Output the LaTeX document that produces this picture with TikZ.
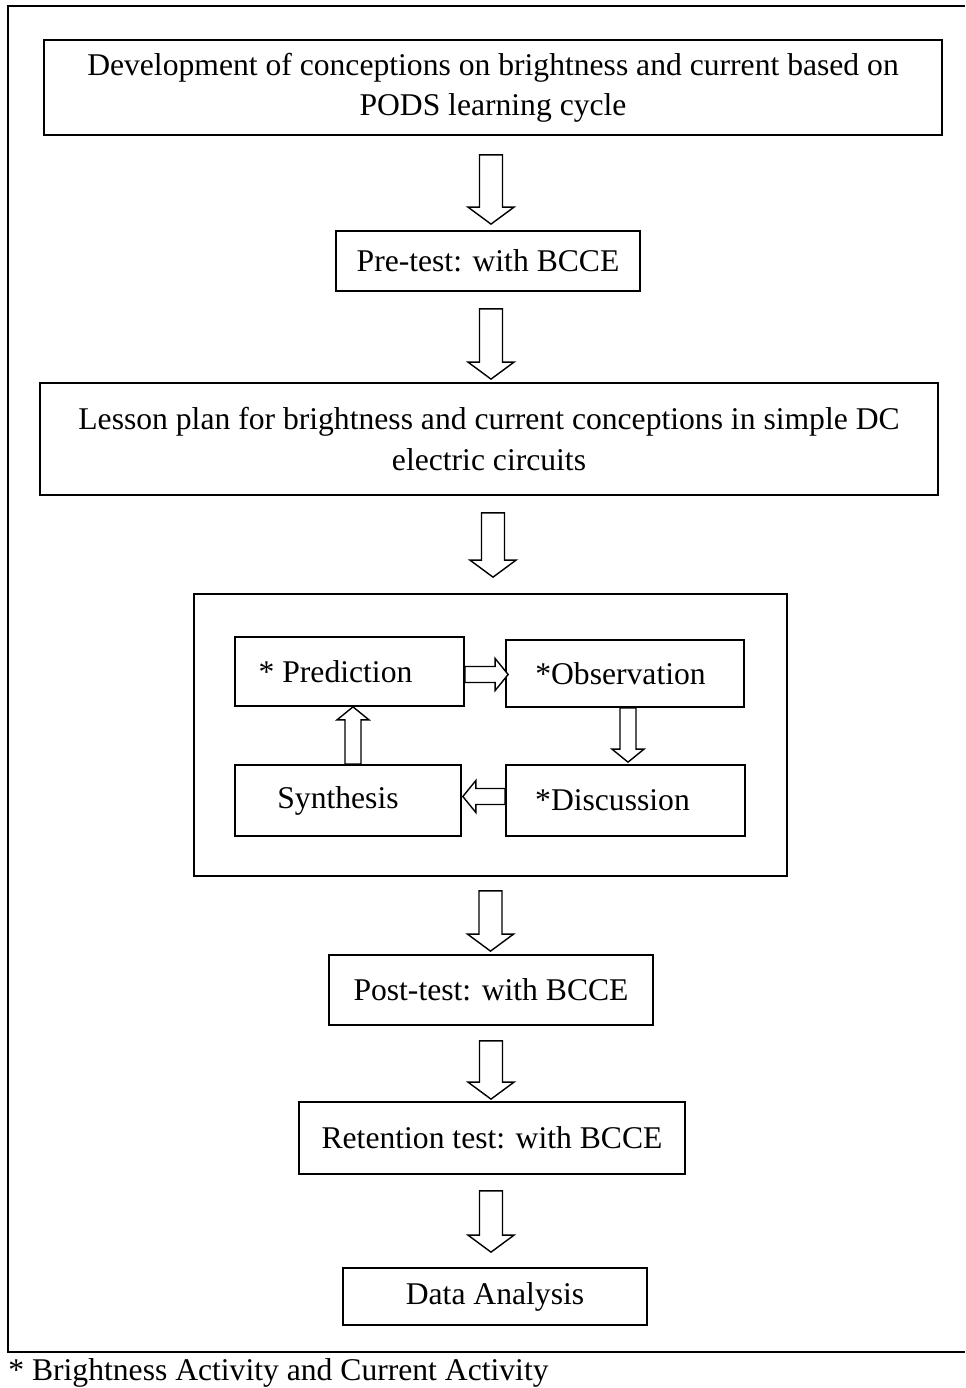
\documentclass[tikz,border=0pt]{standalone}
\usepackage{fontspec}
\setmainfont{Liberation Serif}
\usetikzlibrary{calc}

\tikzset{
  box/.style={draw, line width=1pt, inner sep=2pt, align=center},
  hollow/.style={draw, line width=0.8pt, fill=white, line join=miter},
}
% sizes of the hollow block arrows
\newcommand{\shafthw}{0.23cm}
\newcommand{\headhw}{0.46cm}
\newcommand{\headlen}{0.34cm}
\newcommand{\blockarrow}[2]{%
  \draw[hollow] let \p1=(#1), \p2=(#2),
      \n1={atan2(\y2-\y1,\x2-\x1)}, \n2={veclen(\x2-\x1,\y2-\y1)} in
    ($(\p1)+(\n1+90:\shafthw)$)
    -- ($(\p1)+(\n1:\n2-\headlen)+(\n1+90:\shafthw)$)
    -- ($(\p1)+(\n1:\n2-\headlen)+(\n1+90:\headhw)$)
    -- (\p2)
    -- ($(\p1)+(\n1:\n2-\headlen)+(\n1-90:\headhw)$)
    -- ($(\p1)+(\n1:\n2-\headlen)+(\n1-90:\shafthw)$)
    -- ($(\p1)+(\n1-90:\shafthw)$) -- cycle;}

\begin{document}
\begin{tikzpicture}[x=0.02cm, y=-0.02cm, font=\fontsize{18}{22.8}\selectfont]
  \useasboundingbox (0,0) rectangle (965,1388);
  % outer frame
  \draw[line width=1pt] (965,6) -- (8,6) -- (8,1352) -- (965,1352);

  % main flow
  \node[box, minimum width=17.96cm, minimum height=1.9cm] (dev) at (493,87.5)
    {Development of conceptions on brightness and current based on\\ PODS learning cycle};
  \node[box, minimum width=6.08cm, minimum height=1.2cm] (pre) at (488,261) {Pre-test: with BCCE};
  \node[box, minimum width=17.96cm, minimum height=2.24cm] (plan) at (489,439)
    {Lesson plan for brightness and current conceptions in simple DC\\ electric circuits};
  \node[box, minimum width=11.86cm, minimum height=5.64cm] (cyc) at (490.5,735) {};
  \node[box, minimum width=6.48cm, minimum height=1.4cm] (post) at (491,990) {Post-test: with BCCE};
  \node[box, minimum width=7.72cm, minimum height=1.44cm] (ret) at (492,1138) {Retention test: with BCCE};
  \node[box, minimum width=6.08cm, minimum height=1.14cm] (data) at (495,1296.5) {Data Analysis};

  % PODS cycle
  \node[box, minimum width=4.58cm, minimum height=1.38cm] (pred) at (349.5,671.5) {* Prediction\hspace{0.56cm}};
  \node[box, minimum width=4.76cm, minimum height=1.34cm] (obs) at (625,673.5) {*Observation\hspace{0.18cm}};
  \node[box, minimum width=4.52cm, minimum height=1.42cm] (syn) at (348,800.5) {Synthesis\hspace{0.4cm}};
  \node[box, minimum width=4.78cm, minimum height=1.42cm] (disc) at (625.5,800.5) {*Discussion\hspace{0.52cm}};

  \node[anchor=base west, inner sep=0pt] (note) at (8,1380) {* Brightness Activity and Current Activity};

  % arrows of the main flow
  \blockarrow{$(dev.south)+(-2,19)$}{$(dev.south |- pre.north)+(-2,-6)$}
  \blockarrow{$(pre.south)+(3,17)$}{$(pre.south |- plan.north)+(3,-3)$}
  \blockarrow{$(plan.south)+(4,17)$}{$(plan.south |- cyc.north)+(4,-16)$}
  \blockarrow{$(cyc.south)+(0,14)$}{$(cyc.south |- post.north)+(0,-3)$}
  \blockarrow{$(post.south)+(0,15)$}{$(post.south |- ret.north)+(0,-2)$}
  \blockarrow{$(ret.south)+(-1,16)$}{$(ret.south |- data.north)+(-1,-15)$}

  % arrows of the cycle
  \begin{scope}
    \renewcommand{\shafthw}{0.16cm}
    \renewcommand{\headhw}{0.32cm}
    \renewcommand{\headlen}{0.26cm}
    \blockarrow{$(pred.east)+(0,3)$}{$(obs.west |- pred.east)+(3,3)$}
    \blockarrow{$(obs.south)+(3,0)$}{$(obs.south |- disc.north)+(3,-2)$}
    \blockarrow{$(disc.west)+(0,-4)$}{$(syn.east |- disc.west)+(1,-4)$}
    \blockarrow{$(syn.north)+(5,0)$}{$(syn.north |- pred.south)+(5,0)$}
  \end{scope}
\end{tikzpicture}
\end{document}
